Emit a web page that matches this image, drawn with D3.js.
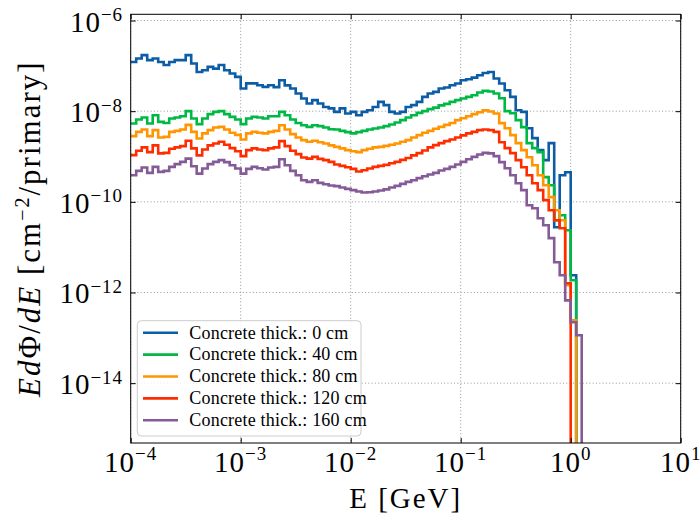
<!DOCTYPE html>
<html>
<head>
<meta charset="utf-8">
<script src="https://cdn.jsdelivr.net/npm/d3@7"></script>
<style>
  body { margin: 0; background: #fff; }
</style>
</head>
<body>
<svg id="chart" width="700" height="522" font-family="'Liberation Serif', 'Times New Roman', 'DejaVu Serif', serif"></svg>
<script>
// log10 of the energy bin edges [GeV]
const binEdges = [
  -4.00, -3.95, -3.90, -3.85, -3.80, -3.75, -3.70, -3.65, -3.60, -3.55,
  -3.50, -3.45, -3.40, -3.35, -3.30, -3.25, -3.20, -3.15, -3.10, -3.05,
  -3.00, -2.95, -2.90, -2.85, -2.80, -2.75, -2.70, -2.65, -2.60, -2.55,
  -2.50, -2.45, -2.40, -2.35, -2.30, -2.25, -2.20, -2.15, -2.10, -2.05,
  -2.00, -1.95, -1.90, -1.85, -1.80, -1.75, -1.70, -1.65, -1.60, -1.55,
  -1.50, -1.45, -1.40, -1.35, -1.30, -1.25, -1.20, -1.15, -1.10, -1.05,
  -1.00, -0.95, -0.90, -0.85, -0.80, -0.75, -0.70, -0.65, -0.60, -0.55,
  -0.50, -0.45, -0.40, -0.35, -0.30, -0.25, -0.20, -0.15, -0.10, -0.05,
   0.00,  0.05,  0.10
];

// E dPhi/dE per bin [cm^-2/primary], null = empty bin
const flux0cm = [
  1.22e-7, 1.45e-7, 1.72e-7, 1.34e-7, 1.45e-7, 1.22e-7, 1.04e-7, 1.22e-7, 1.34e-7, 1.34e-7,
  1.72e-7, 1.13e-7, 7.3e-8, 8.0e-8, 9.5e-8, 8.7e-8, 1.04e-7, 8.0e-8, 6.8e-8, 5.7e-8,
  3.16e-8, 4.1e-8, 4.1e-8, 3.74e-8, 3.43e-8, 3.74e-8, 3.4e-8, 4.8e-8, 3.7e-8, 3.16e-8,
  2.45e-8, 1.9e-8, 1.48e-8, 1.75e-8, 1.48e-8, 1.24e-8, 1.15e-8, 9.65e-9, 1.15e-8, 8.9e-9,
  9.65e-9, 8.15e-9, 9.65e-9, 1.05e-8, 1.24e-8, 1.6e-8, 1.36e-8, 9.65e-9, 8.9e-9, 9.65e-9,
  1.24e-8, 1.36e-8, 1.6e-8, 2.07e-8, 2.45e-8, 2.66e-8, 3.16e-8, 3.33e-8, 3.74e-8, 4.08e-8,
  4.8e-8, 5.07e-8, 5.5e-8, 6.2e-8, 6.97e-8, 7.3e-8, 5.25e-8, 4.08e-8, 2.9e-8, 2.07e-8,
  1.05e-8, 9.65e-9, 4.2e-9, 2.54e-9, 1.38e-9, 8.3e-10, 1.97e-9, 2.76e-11, 3.87e-10, 4.5e-10,
  2.4e-12, null
];
const flux40cm = [
  5.35e-9, 6.56e-9, 7.27e-9, 5.35e-9, 8.15e-9, 5.8e-9, 5.5e-9, 6.9e-9, 7.27e-9, 7.75e-9,
  1.0e-8, 6.9e-9, 5.17e-9, 6.9e-9, 8.6e-9, 9.65e-9, 1.0e-8, 8.6e-9, 7.5e-9, 6.56e-9,
  5.17e-9, 6.9e-9, 7.5e-9, 7.27e-9, 6.9e-9, 7.75e-9, 7.75e-9, 9.65e-9, 8.15e-9, 6.56e-9,
  5.5e-9, 4.9e-9, 4.5e-9, 4.9e-9, 4.67e-9, 4.37e-9, 4.0e-9, 3.95e-9, 3.68e-9, 3.45e-9,
  3.23e-9, 3.45e-9, 3.68e-9, 3.95e-9, 4.16e-9, 4.37e-9, 4.67e-9, 5.1e-9, 5.63e-9, 6.34e-9,
  7.27e-9, 8.15e-9, 9.15e-9, 1.0e-8, 1.11e-8, 1.2e-8, 1.34e-8, 1.45e-8, 1.6e-8, 1.75e-8,
  1.9e-8, 2.07e-8, 2.25e-8, 2.58e-8, 2.8e-8, 2.71e-8, 2.45e-8, 1.93e-8, 1.0e-8, 9.0e-9,
  6.34e-9, 4.44e-9, 1.97e-9, 1.53e-9, 1.25e-9, 3.5e-10, 2.33e-10, 3.93e-11, 5.07e-11, 2.37e-11,
  1.87e-12, null
];
const flux80cm = [
  2.81e-9, 3.5e-9, 3.95e-9, 2.81e-9, 3.81e-9, 2.63e-9, 2.71e-9, 3.5e-9, 3.68e-9, 3.95e-9,
  4.99e-9, 3.5e-9, 2.5e-9, 3.23e-9, 3.81e-9, 4.37e-9, 4.5e-9, 3.95e-9, 3.33e-9, 3.0e-9,
  2.38e-9, 3.23e-9, 3.5e-9, 3.33e-9, 3.23e-9, 3.5e-9, 3.68e-9, 4.9e-9, 3.95e-9, 3.11e-9,
  2.63e-9, 2.3e-9, 2.11e-9, 2.22e-9, 2.07e-9, 1.94e-9, 1.76e-9, 1.63e-9, 1.51e-9, 1.38e-9,
  1.31e-9, 1.25e-9, 1.38e-9, 1.48e-9, 1.59e-9, 1.63e-9, 1.72e-9, 1.81e-9, 1.94e-9, 2.11e-9,
  2.3e-9, 2.63e-9, 2.96e-9, 3.33e-9, 3.68e-9, 4.08e-9, 4.5e-9, 4.99e-9, 5.5e-9, 6.34e-9,
  7.0e-9, 7.75e-9, 8.6e-9, 9.5e-9, 1.04e-8, 9.85e-9, 8.9e-9, 5.45e-9, 4.2e-9, 2.96e-9,
  1.97e-9, 1.38e-9, 9.65e-10, 6.4e-10, 3.87e-10, 2.33e-10, 1.27e-10, 6.53e-11, 3.93e-11, 1.45e-12,
  2.44e-13, null
];
const flux120cm = [
  1.07e-9, 1.34e-9, 1.59e-9, 1.25e-9, 1.76e-9, 1.17e-9, 1.2e-9, 1.48e-9, 1.59e-9, 1.69e-9,
  2.22e-9, 1.51e-9, 1.06e-9, 1.43e-9, 1.76e-9, 1.94e-9, 2.11e-9, 1.81e-9, 1.53e-9, 1.31e-9,
  1.02e-9, 1.38e-9, 1.51e-9, 1.43e-9, 1.38e-9, 1.51e-9, 1.59e-9, 2.18e-9, 1.69e-9, 1.34e-9,
  1.13e-9, 9.5e-10, 9.0e-10, 9.8e-10, 8.85e-10, 8.3e-10, 7.6e-10, 6.66e-10, 6.2e-10, 5.8e-10,
  5.33e-10, 4.67e-10, 4.99e-10, 5.45e-10, 5.9e-10, 6.2e-10, 6.53e-10, 7.1e-10, 7.6e-10, 8.41e-10,
  9.3e-10, 1.06e-9, 1.19e-9, 1.36e-9, 1.59e-9, 1.78e-9, 1.97e-9, 2.18e-9, 2.38e-9, 2.63e-9,
  2.92e-9, 3.23e-9, 3.5e-9, 3.81e-9, 3.95e-9, 3.81e-9, 3.5e-9, 2.07e-9, 1.53e-9, 1.19e-9,
  8.3e-10, 5.8e-10, 3.87e-10, 2.58e-10, 1.81e-10, 1.09e-10, 6.5e-11, 3.93e-11, 2.62e-11, 1.6e-12,
  null, null
];
const flux160cm = [
  3.87e-10, 4.82e-10, 5.7e-10, 4.35e-10, 5.9e-10, 4.58e-10, 4.82e-10, 5.9e-10, 6.8e-10, 7.6e-10,
  9.0e-10, 6.1e-10, 4.2e-10, 5.45e-10, 6.8e-10, 7.6e-10, 8.3e-10, 7.5e-10, 6.4e-10, 5.45e-10,
  4.2e-10, 5.33e-10, 5.9e-10, 5.5e-10, 5.17e-10, 5.7e-10, 5.9e-10, 8.7e-10, 6.4e-10, 4.82e-10,
  3.87e-10, 3.0e-10, 2.76e-10, 3.0e-10, 2.62e-10, 2.45e-10, 2.3e-10, 2.22e-10, 2.07e-10, 1.93e-10,
  1.81e-10, 1.69e-10, 1.61e-10, 1.63e-10, 1.69e-10, 1.78e-10, 1.88e-10, 2.07e-10, 2.25e-10, 2.49e-10,
  2.76e-10, 3.0e-10, 3.33e-10, 3.68e-10, 4.0e-10, 4.35e-10, 4.9e-10, 5.33e-10, 5.9e-10, 6.66e-10,
  7.6e-10, 8.7e-10, 9.8e-10, 1.11e-9, 1.2e-9, 1.17e-9, 1.02e-9, 7.5e-10, 5.5e-10, 3.87e-10,
  2.58e-10, 1.81e-10, 8.41e-11, 7.23e-11, 4.35e-11, 3.05e-11, 1.58e-11, 4.65e-12, 2.4e-12, 6.7e-13,
  2.2e-13, 1.14e-13
];

const seriesNames  = ['Concrete thick.: 0 cm', 'Concrete thick.: 40 cm', 'Concrete thick.: 80 cm',
                      'Concrete thick.: 120 cm', 'Concrete thick.: 160 cm'];
const seriesValues = [flux0cm, flux40cm, flux80cm, flux120cm, flux160cm];
const seriesColors = ['#0C5DA5', '#00B945', '#FF9500', '#FF2C00', '#845B97'];

const xTicks    = [1e-4, 1e-3, 1e-2, 1e-1, 1e0, 1e1];
const xTickExps = ['\u22124', '\u22123', '\u22122', '\u22121', '0', '1'];
const yTicks    = [1e-14, 1e-12, 1e-10, 1e-8, 1e-6];
const yTickExps = ['\u221214', '\u221212', '\u221210', '\u22128', '\u22126'];

const margin = {top: 14.3, right: 19.3, bottom: 79, left: 130.7};
const width  = 700 - margin.left - margin.right;
const height = 522 - margin.top - margin.bottom;

const svg = d3.select('#chart');
const g = svg.append('g')
  .attr('transform', `translate(${margin.left},${margin.top})`);

const x = d3.scaleLog().domain([1e-4, 1e1]).range([0, width]);
const y = d3.scaleLog().domain([Math.pow(10, -15.32), Math.pow(10, -5.863)]).range([height, 0]);

// grid
const grid = g.append('g').attr('class', 'grid')
  .attr('stroke', '#8c8c8c').attr('stroke-width', 0.9).attr('stroke-dasharray', '1,2.3');
grid.selectAll('.gx').data(xTicks).enter().append('line')
  .attr('x1', d => x(d)).attr('x2', d => x(d)).attr('y1', 0).attr('y2', height);
grid.selectAll('.gy').data(yTicks).enter().append('line')
  .attr('y1', d => y(d)).attr('y2', d => y(d)).attr('x1', 0).attr('x2', width);

// series, drawn as histogram steps
g.append('clipPath').attr('id', 'plot-clip')
  .append('rect').attr('width', width).attr('height', height);

const below = height + 40;
const stepLine = d3.line()
  .x(d => d[0])
  .y(d => d[1]);

function stepPoints(values) {
  let pts = [];
  values.forEach((v, i) => {
    let yy = v == null ? below : y(v);
    pts.push([x(Math.pow(10, binEdges[i])), yy]);
    pts.push([x(Math.pow(10, binEdges[i + 1])), yy]);
  });
  pts.push([pts[pts.length - 1][0], below]);
  return pts;
}

g.append('g').attr('clip-path', 'url(#plot-clip)')
  .selectAll('path')
  .data(seriesValues)
  .enter().append('path')
    .attr('d', d => stepLine(stepPoints(d)))
    .attr('fill', 'none')
    .attr('stroke', (d, i) => seriesColors[i])
    .attr('stroke-width', 2.6)
    .attr('stroke-linejoin', 'miter');

// ticks on all four sides, pointing inward
const tickLen = 5;
g.append('g').attr('transform', `translate(0,${height})`)
  .call(d3.axisBottom(x).tickValues(xTicks).tickSize(-tickLen).tickSizeOuter(0).tickFormat(''));
g.append('g')
  .call(d3.axisTop(x).tickValues(xTicks).tickSize(-tickLen).tickSizeOuter(0).tickFormat(''));
g.append('g')
  .call(d3.axisLeft(y).tickValues(yTicks).tickSize(-tickLen).tickSizeOuter(0).tickFormat(''));
g.append('g').attr('transform', `translate(${width},0)`)
  .call(d3.axisRight(y).tickValues(yTicks).tickSize(-tickLen).tickSizeOuter(0).tickFormat(''));
g.selectAll('.domain').remove();
g.selectAll('.tick line').attr('stroke', '#000').attr('stroke-width', 1);
// d3 axes set their own font-family; drop it so the serif font is inherited
g.selectAll('g').attr('font-family', null);

// frame
g.append('rect')
  .attr('width', width).attr('height', height)
  .attr('fill', 'none').attr('stroke', '#000').attr('stroke-width', 1);

// tick labels
const xl = g.append('g').selectAll('text').data(xTicks).enter().append('text')
  .attr('x', d => x(d)).attr('y', height + 28.7)
  .attr('text-anchor', 'middle').attr('font-size', 29).attr('letter-spacing', 1);
xl.append('tspan').text('10');
xl.append('tspan').attr('dy', -11.5).attr('font-size', 19).text((d, i) => xTickExps[i]);

const yl = g.append('g').selectAll('text').data(yTicks).enter().append('text')
  .attr('x', -7.6).attr('y', d => y(d) + 11)
  .attr('text-anchor', 'end').attr('font-size', 29).attr('letter-spacing', 1);
yl.append('tspan').text('10');
yl.append('tspan').attr('dy', -10.5).attr('font-size', 19).text((d, i) => yTickExps[i]);

// axis labels
svg.append('text')
  .attr('x', margin.left + width / 2).attr('y', 508.3)
  .attr('text-anchor', 'middle').attr('font-size', 29).attr('letter-spacing', 2)
  .text('E [GeV]');

const ylab = svg.append('text')
  .attr('transform', `translate(40,${margin.top + height / 2}) rotate(-90)`)
  .attr('text-anchor', 'middle').attr('font-size', 31).attr('letter-spacing', 2);
ylab.append('tspan').attr('font-style', 'italic').text('Ed');
ylab.append('tspan').text('\u03A6/');
ylab.append('tspan').attr('font-style', 'italic').text('dE');
ylab.append('tspan').text(' [cm');
ylab.append('tspan').attr('dy', -11).attr('font-size', 20).text('\u22122');
ylab.append('tspan').attr('dy', 11).text('/primary]');

// legend
const legend = svg.append('g').attr('transform', 'translate(137.3,320.7)');
legend.append('rect')
  .attr('width', 223.7).attr('height', 115.3).attr('rx', 4)
  .attr('fill', '#fff').attr('fill-opacity', 0.8)
  .attr('stroke', '#cccccc').attr('stroke-width', 1);

const rows = legend.selectAll('.row').data(seriesNames).enter().append('g')
  .attr('class', 'row')
  .attr('transform', (d, i) => `translate(0,${12 + i * 21.9})`);
rows.append('line')
  .attr('x1', 5.7).attr('x2', 40.7)
  .attr('stroke', (d, i) => seriesColors[i]).attr('stroke-width', 2.6);
rows.append('text')
  .attr('x', 52).attr('y', 5.8)
  .attr('font-size', 18).attr('letter-spacing', 0.2)
  .text(d => d);
</script>
</body>
</html>
